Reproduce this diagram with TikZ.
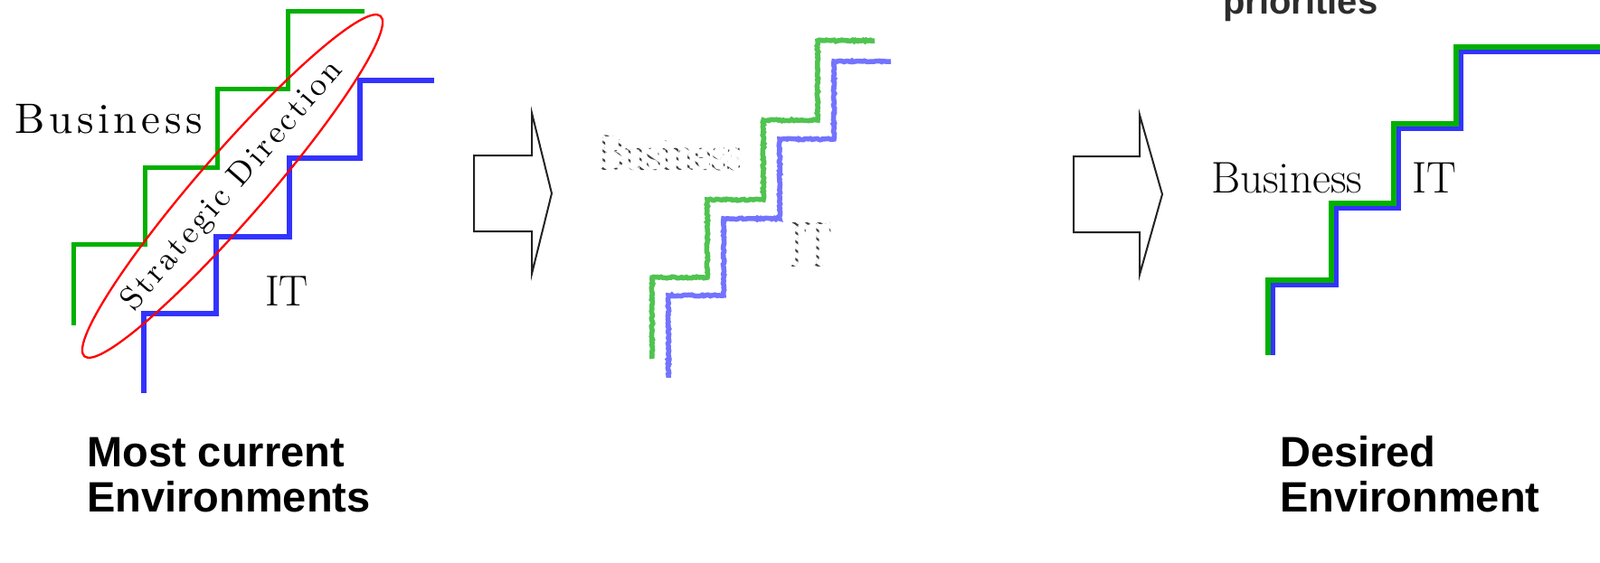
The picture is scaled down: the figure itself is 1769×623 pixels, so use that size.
\documentclass[tikz,border=0pt]{standalone}
\usepackage{fontspec}
\setsansfont{Liberation Sans}
\newfontfamily\spacedrm[LetterSpace=10]{lmroman10-regular.otf}
\newfontfamily\spaceddir[LetterSpace=9]{lmroman10-regular.otf}
\usetikzlibrary{shapes.geometric,decorations.pathmorphing,patterns.meta}

\definecolor{bizgreen}{RGB}{0,176,0}
\definecolor{itblue}{RGB}{51,51,255}
\definecolor{fadegreen}{RGB}{80,195,80}
\definecolor{fadeblue}{RGB}{115,115,255}
\definecolor{arrgray}{RGB}{34,34,34}

\begin{document}
\begin{tikzpicture}[x=1pt, y=-1pt,
  caption/.style={font=\sffamily\bfseries\fontsize{47}{50}\selectfont,
    align=left, anchor=base west, inner sep=0},
  word/.style={font=\fontsize{#1}{#1}\selectfont, anchor=base west, inner sep=0},
  biz/.style={draw=bizgreen, line width=5pt},
  itline/.style={draw=itblue, line width=6pt},
  rough/.style={decorate, decoration={random steps, segment length=2pt, amplitude=0.8pt}},
  blockarr/.style={draw=arrgray, line width=2pt, line join=miter},
  streaks/.style={pattern={Lines[angle=-35, distance=8pt, line width=5.5pt]},
    pattern color=white}
]
\useasboundingbox (0,0) rectangle (1769,623);

% current environment
\draw[biz] (81,360) |- (160,270) |- (240,185) |- (318,99) |- (403,13);
\draw[itline] (159,435) |- (239,347) |- (320,262) |- (398,175) |- (480,89);
\node[anchor=base west, inner sep=0,
  font=\spacedrm\fontsize{47}{47}\selectfont] (bizl) at (16,147) {Business};
\node[word=48] (itl) at (293,338) {IT};
\node[ellipse, draw=red, line width=2.3pt, rotate=49, minimum width=490pt,
  minimum height=74pt, inner sep=0,
  font=\spaceddir\fontsize{36}{36}\selectfont] (dir)
  at (257,206) {Strategic Direction};

\draw[blockarr] (524,172) -- (588,172) -- (588,125) -- (610,214)
  -- (588,303) -- (588,256) -- (524,256) -- cycle;

% diverging middle
\draw[rough, draw=fadegreen, line width=5.5pt] (721,397) |- (782,307) |- (844,221) |- (904,133) |- (967,45);
\draw[rough, draw=fadeblue, line width=5.5pt] (739,418) |- (800,327) |- (862,242) |- (922,154) |- (985,68);
\node[word=47, text=black!75] (bizm) at (660,188) {\scalebox{1}[1.2]{Business}};
\node[word=48, text=black!75] (itm) at (873,295) {\scalebox{1}[1.5]{IT}};
\fill[streaks] (bizm.north west) rectangle (bizm.south east);
\fill[streaks] (itm.north west) rectangle (itm.south east);

\draw[blockarr] (1187,173) -- (1260,173) -- (1260,127) -- (1285,215)
  -- (1260,304) -- (1260,257) -- (1187,257) -- cycle;

% desired environment
\draw[draw=bizgreen, line width=7pt] (1402,393) |- (1472,310) |- (1541,225) |- (1610,138) |- (1769,53);
\draw[draw=itblue, line width=5pt] (1407,393) |- (1477,315) |- (1546,230) |- (1615,143) |- (1769,58);
\node[word=49] (bizr) at (1339,213) {Business};
\node[word=49] (itr) at (1561,213) {IT};

\node[font=\sffamily\bfseries\fontsize{40}{40}\selectfont, text=arrgray!95,
  anchor=base west, inner sep=0] (prio) at (1352,16) {priorities};

\node[caption] (cur) at (96,566) {Most current\\Environments};
\node[caption] (des) at (1415,566) {Desired\\Environment};
\end{tikzpicture}
\end{document}
